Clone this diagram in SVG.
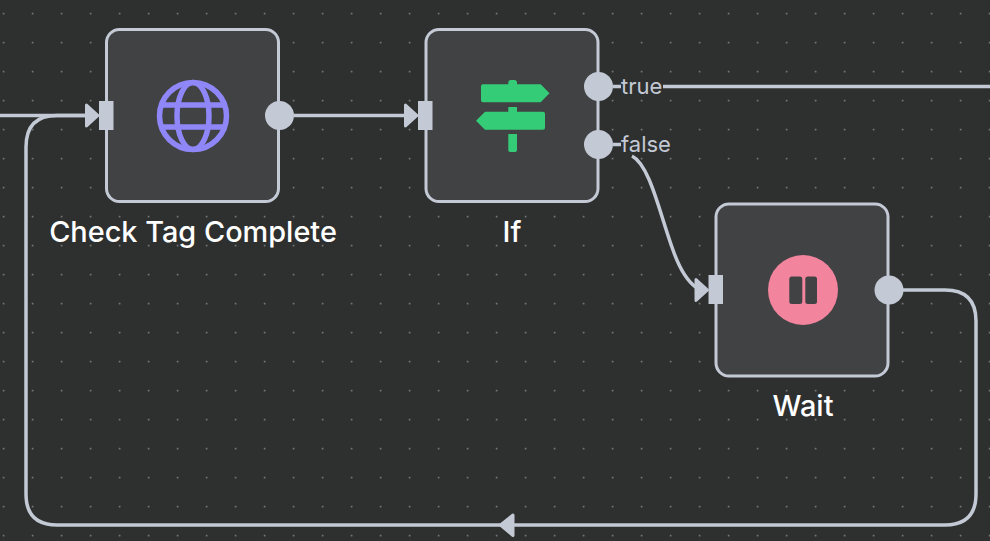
<svg xmlns="http://www.w3.org/2000/svg" width="990" height="541" viewBox="0 0 990 541">
<style>
.wire{fill:none;stroke:#c3c9d5;stroke-width:3.5}
.box{fill:#414244;stroke:#c3c9d5;stroke-width:3}
.port{fill:#c3c9d5}
.head{fill:#c3c9d5;stroke:#c3c9d5;stroke-width:3;stroke-linejoin:round}
.name{font-family:Inter,"Liberation Sans",sans-serif;font-size:28.9px;font-weight:500;fill:#fff;text-anchor:middle}
.tag{font-family:Inter,"Liberation Sans",sans-serif;font-size:22px;fill:#c3c9d5}
</style>
<defs>
<pattern id="dots" x="2.8" y="12.8" width="29" height="29" patternUnits="userSpaceOnUse">
<rect x="0" y="0" width="1.5" height="1.5" fill="#85888a"/>
</pattern>
</defs>
<rect width="990" height="541" fill="#2e302f"/>
<rect width="990" height="541" fill="url(#dots)"/>
<g id="connectors">
<path class="wire" d="M0 115.500H87"/>
<path class="wire" d="M294 115.500H406"/>
<path class="wire" d="M903 290H945Q976 290 976 321V494Q976 525 945 525H57Q26 525 26 494V147Q26 115.500 57 115.500H87"/>
<path class="wire" d="M613 86.500H621M663 86.500H990"/>
<path class="wire" d="M613 144.500H621M632 156C650 165 660 215 673 250C680 270 688 282 697 288"/>
<path class="head" d="M86.500 105L98 115.500L86.500 126Z"/>
<path class="head" d="M405.500 105L417 115.500L405.500 126Z"/>
<path class="head" d="M696 279.500L707.500 290L696 300.500Z"/>
<path class="head" d="M513 515L500.500 525L513 535.500Z"/>
</g>
<g id="node-check-tag">
<rect class="box" x="106.500" y="29.500" width="172" height="172" rx="13"/>
<rect class="port" x="99" y="101" width="14.500" height="29"/>
<circle class="port" cx="279.500" cy="115.500" r="14.500"/>
<g fill="none" stroke="#8f87f8" stroke-width="5.500">
<circle cx="193" cy="116" r="33.500"/>
<ellipse cx="193" cy="116" rx="16" ry="33.500"/>
<path d="M162 105H224M162 127H224"/>
</g>
<text class="name" x="193" y="241.500">Check Tag Complete</text>
</g>
<g id="node-if">
<rect class="box" x="426" y="29.500" width="172" height="172" rx="13"/>
<rect class="port" x="418" y="101" width="14.500" height="29"/>
<circle class="port" cx="598.500" cy="86.500" r="14.500"/>
<circle class="port" cx="598.500" cy="144.500" r="14.500"/>
<g fill="#35cc78">
<path d="M483 84.300H508.300V82.500Q508.300 80 511 80H514.300Q517 80 517 82.500V84.300H540.700L549.500 93.300L540.700 102.300H483Q481 102.300 481 100.300V86.300Q481 84.300 483 84.300Z"/>
<path d="M485 111.700H508.300V107H517V111.700H543Q545 111.700 545 113.700V127.700Q545 129.700 543 129.700H485L476 120.700Z"/>
<path d="M508.300 134H517V150Q517 152 515 152H510.300Q508.300 152 508.300 150Z"/>
</g>
<text class="name" x="512" y="241.500">If</text>
<text class="tag" x="621" y="94">true</text>
<text class="tag" x="621" y="152">false</text>
</g>
<g id="node-wait">
<rect class="box" x="716" y="204" width="172" height="172" rx="13"/>
<rect class="port" x="708.500" y="275" width="14.500" height="29"/>
<circle class="port" cx="889" cy="290" r="14.500"/>
<circle cx="803" cy="290" r="35" fill="#f2849e"/>
<rect x="789.300" y="276.500" width="13" height="27.500" rx="2.500" fill="#414244"/>
<rect x="805.300" y="276.500" width="11.700" height="27.500" rx="2.500" fill="#414244"/>
<text class="name" x="803" y="415.500">Wait</text>
</g>
</svg>
